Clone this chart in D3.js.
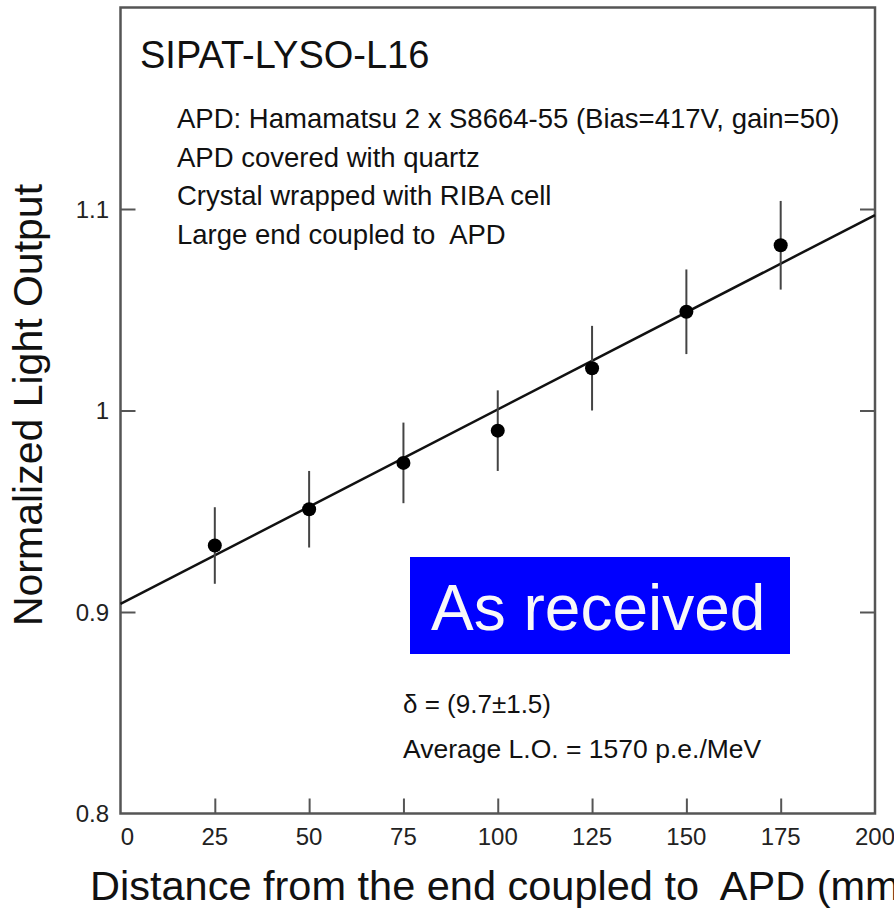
<!DOCTYPE html>
<html lang="en">
<head>
    <meta charset="UTF-8">
    <title>SIPAT-LYSO-L16</title>
    <style>
        body { margin: 0; background: #fff; }
        svg { display: block; font-family: "Liberation Sans", Arial, sans-serif; }
        text { white-space: pre; }
    </style>
</head>
<body>
    <script src="https://d3js.org/d3.v7.min.js"></script>
    <script>
        // data
        let positions = [25, 50, 75, 100, 125, 150, 175];
        let lightOutput = [0.933, 0.951, 0.974, 0.990, 1.021, 1.049, 1.082];
        let errors = [0.019, 0.019, 0.020, 0.020, 0.021, 0.021, 0.022];
        let fitX = [0, 200];
        let fitY = [0.904, 1.097];
        let xTickLabels = [0, 25, 50, 75, 100, 125, 150, 175, 200];
        let yTickLabels = [0.8, 0.9, 1, 1.1];
        let notes = ["APD: Hamamatsu 2 x S8664-55 (Bias=417V, gain=50)",
                     "APD covered with quartz",
                     "Crystal wrapped with RIBA cell",
                     "Large end coupled to  APD"];

        let width = 894, height = 909;
        let margin = {top: 7.5, right: 19, bottom: 95.5, left: 120.5};

        let svg = d3.select('body')
            .append('svg')
            .attr('width', width)
            .attr('height', height);

        let x = d3.scaleLinear().domain([0, 200]).range([margin.left, width - margin.right]);
        let y = d3.scaleLinear().domain([0.8, 1.2]).range([height - margin.bottom, margin.top]);

        let axisColor = '#555';

        // inner ticks, no labels
        let innerX = positions;
        let innerY = [0.9, 1, 1.1];
        let tickLen = 15;

        svg.append('g')
            .attr('transform', 'translate(0,' + y(0.8) + ')')
            .call(d3.axisTop(x).tickValues(innerX).tickSize(tickLen).tickFormat(''))
            .call(g => g.select('.domain').remove())
            .selectAll('line').attr('stroke', axisColor).attr('stroke-width', 2);

        svg.append('g')
            .attr('transform', 'translate(' + x(0) + ',0)')
            .call(d3.axisRight(y).tickValues(innerY).tickSize(tickLen).tickFormat(''))
            .call(g => g.select('.domain').remove())
            .selectAll('line').attr('stroke', axisColor).attr('stroke-width', 2);

        svg.append('g')
            .attr('transform', 'translate(' + x(200) + ',0)')
            .call(d3.axisLeft(y).tickValues(innerY).tickSize(tickLen).tickFormat(''))
            .call(g => g.select('.domain').remove())
            .selectAll('line').attr('stroke', axisColor).attr('stroke-width', 2);

        // frame
        svg.append('rect')
            .attr('x', x(0))
            .attr('y', y(1.2))
            .attr('width', x(200) - x(0))
            .attr('height', y(0.8) - y(1.2))
            .attr('fill', 'none')
            .attr('stroke', axisColor)
            .attr('stroke-width', 2.5);

        // tick labels
        svg.selectAll('.xlab')
            .data(xTickLabels)
            .enter()
            .append('text')
            .attr('class', 'xlab')
            .attr('x', d => x(d) + (d === 0 ? 7 : 0))
            .attr('y', 845)
            .attr('text-anchor', 'middle')
            .attr('font-size', 24)
            .attr('fill', '#222')
            .text(d => d);

        svg.selectAll('.ylab')
            .data(yTickLabels)
            .enter()
            .append('text')
            .attr('class', 'ylab')
            .attr('x', 109)
            .attr('y', d => y(d))
            .attr('dy', '0.36em')
            .attr('text-anchor', 'end')
            .attr('font-size', 24)
            .attr('fill', '#222')
            .text(d => d);

        // axis titles
        svg.append('text')
            .attr('x', 90)
            .attr('y', 900)
            .attr('font-size', 41.5)
            .attr('fill', '#111')
            .text('Distance from the end coupled to  APD (mm)');

        svg.append('text')
            .attr('transform', 'translate(42,405) rotate(-90)')
            .attr('text-anchor', 'middle')
            .attr('font-size', 41)
            .attr('fill', '#111')
            .text('Normalized Light Output');

        // fit line
        svg.append('line')
            .attr('x1', x(fitX[0]))
            .attr('y1', y(fitY[0]))
            .attr('x2', x(fitX[1]))
            .attr('y2', y(fitY[1]))
            .attr('stroke', '#111')
            .attr('stroke-width', 2.5);

        // error bars
        svg.selectAll('.err')
            .data(positions)
            .enter()
            .append('line')
            .attr('class', 'err')
            .attr('x1', d => x(d))
            .attr('x2', d => x(d))
            .attr('y1', (d, i) => y(lightOutput[i] - errors[i]))
            .attr('y2', (d, i) => y(lightOutput[i] + errors[i]))
            .attr('stroke', '#444')
            .attr('stroke-width', 2);

        // points
        svg.selectAll('.pt')
            .data(positions)
            .enter()
            .append('circle')
            .attr('class', 'pt')
            .attr('cx', d => x(d))
            .attr('cy', (d, i) => y(lightOutput[i]))
            .attr('r', 7)
            .attr('fill', '#000');

        // labels inside the frame
        svg.append('text')
            .attr('x', 140)
            .attr('y', 68)
            .attr('font-size', 38)
            .attr('fill', '#111')
            .text('SIPAT-LYSO-L16');

        svg.selectAll('.note')
            .data(notes)
            .enter()
            .append('text')
            .attr('class', 'note')
            .attr('x', 177)
            .attr('y', (d, i) => 128 + i * 38.5)
            .attr('font-size', 27.5)
            .attr('fill', '#111')
            .text(d => d);

        svg.append('text')
            .attr('x', 403)
            .attr('y', 713)
            .attr('font-size', 26)
            .attr('fill', '#111')
            .text('\u03b4 = (9.7\u00b11.5)');

        svg.append('text')
            .attr('x', 403)
            .attr('y', 758)
            .attr('font-size', 26.5)
            .attr('fill', '#111')
            .text('Average L.O. = 1570 p.e./MeV');

        // blue tag
        svg.append('rect')
            .attr('x', 410)
            .attr('y', 557)
            .attr('width', 380)
            .attr('height', 97)
            .attr('fill', '#0000ff');

        svg.append('text')
            .attr('x', 431)
            .attr('y', 630)
            .attr('font-size', 64)
            .attr('fill', '#f8f8f8')
            .text('As received');
    </script>
</body>
</html>
